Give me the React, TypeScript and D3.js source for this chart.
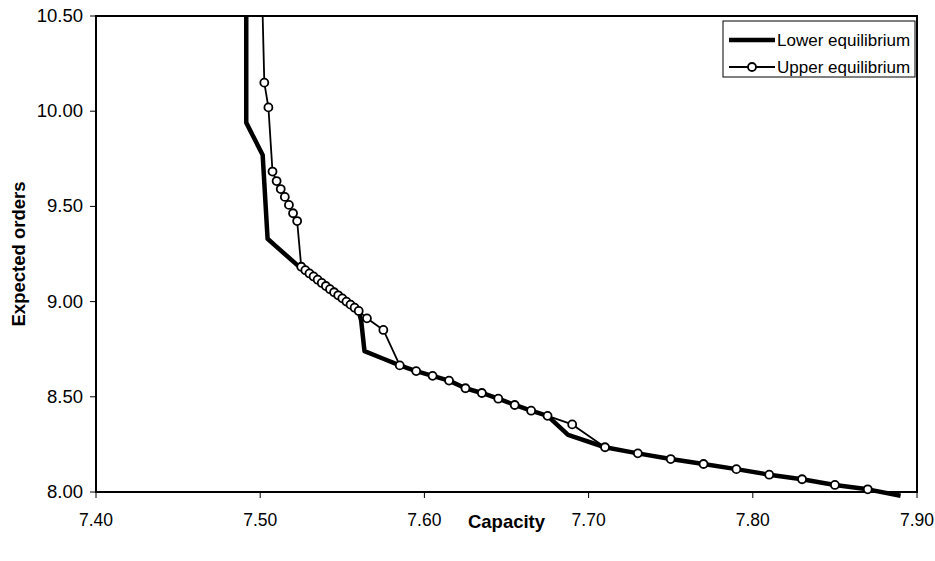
import * as React from "react";
import * as d3 from "d3";

// capacity / expected orders
const lowerCapacity = [
  7.4915, 7.4915, 7.5015, 7.5045, 7.509, 7.5235, 7.5275, 7.53, 7.5325, 7.535,
  7.5375, 7.54, 7.5425, 7.545, 7.5475, 7.55, 7.5525, 7.555, 7.5575, 7.56,
  7.5615, 7.5635, 7.575, 7.585, 7.595, 7.605, 7.615, 7.625, 7.635, 7.645,
  7.655, 7.665, 7.675, 7.6875, 7.71, 7.73, 7.75, 7.77, 7.79, 7.81, 7.83,
  7.85, 7.87, 7.89,
];
const lowerOrders = [
  10.5, 9.94, 9.77, 9.33, 9.295, 9.185, 9.165, 9.148, 9.132, 9.115, 9.098,
  9.082, 9.065, 9.049, 9.033, 9.017, 9.0, 8.984, 8.968, 8.951, 8.9, 8.74, 8.7,
  8.665, 8.635, 8.61, 8.585, 8.545, 8.52, 8.49, 8.457, 8.427, 8.4, 8.3, 8.235,
  8.203, 8.173, 8.147, 8.12, 8.091, 8.067, 8.037, 8.014, 7.98,
];

const upperCapacity = [
  7.5015, 7.5025, 7.505, 7.5075, 7.51, 7.5125, 7.515, 7.5175, 7.52, 7.5225,
  7.525, 7.5275, 7.53, 7.5325, 7.535, 7.5375, 7.54, 7.5425, 7.545, 7.5475,
  7.55, 7.5525, 7.555, 7.5575, 7.56, 7.565, 7.575, 7.585, 7.595, 7.605, 7.615,
  7.625, 7.635, 7.645, 7.655, 7.665, 7.675, 7.69, 7.71, 7.73, 7.75, 7.77,
  7.79, 7.81, 7.83, 7.85, 7.87,
];
const upperOrders = [
  10.5, 10.15, 10.02, 9.683, 9.633, 9.591, 9.55, 9.508, 9.464, 9.423, 9.183,
  9.165, 9.148, 9.132, 9.115, 9.098, 9.082, 9.065, 9.049, 9.033, 9.017, 9.0,
  8.984, 8.968, 8.951, 8.912, 8.851, 8.665, 8.635, 8.61, 8.585, 8.545, 8.52,
  8.49, 8.457, 8.427, 8.4, 8.355, 8.235, 8.203, 8.173, 8.147, 8.12, 8.091,
  8.067, 8.037, 8.014,
];

const xTicks = [7.4, 7.5, 7.6, 7.7, 7.8, 7.9];
const yTicks = [8.0, 8.5, 9.0, 9.5, 10.0, 10.5];
const seriesNames = ["Lower equilibrium", "Upper equilibrium"];

const font = "'Liberation Sans', Arial, sans-serif";

export default function App() {
  const left = 96;
  const right = 917;
  const top = 16;
  const bottom = 492;

  const x = d3.scaleLinear().domain([7.4, 7.9]).range([left, right]);
  const y = d3.scaleLinear().domain([8, 10.5]).range([bottom, top]);
  const fmt = d3.format(".2f");

  const line = d3
    .line<[number, number]>()
    .x((d) => x(d[0]))
    .y((d) => y(d[1]));

  const lower: [number, number][] = lowerCapacity.map((c, i) => [c, lowerOrders[i]]);
  const upper: [number, number][] = upperCapacity.map((c, i) => [c, upperOrders[i]]);

  // first upper point is only where the line enters the frame, no marker
  const upperMarks = upper.slice(1);

  const lgX = 723;
  const lgY = 21;

  return (
    <svg
      width={935}
      height={561}
      style={{ position: "absolute", left: 0, top: 0, background: "#fff" }}
      fontFamily={font}
    >
      <rect x={0} y={0} width={935} height={561} fill="#fff" />

      {/* frame */}
      <rect
        x={left}
        y={top}
        width={right - left}
        height={bottom - top}
        fill="none"
        stroke="#000"
        strokeWidth={2}
      />

      {/* x axis */}
      {xTicks.map((t, i) => (
        <g key={i} transform={`translate(${x(t)}, ${bottom})`}>
          <line y1={0} y2={6} stroke="#000" strokeWidth={1} />
          <text y={34} textAnchor="middle" fontSize={17.5}>
            {fmt(t)}
          </text>
        </g>
      ))}
      <text
        x={(left + right) / 2}
        y={528}
        textAnchor="middle"
        fontSize={18.5}
        fontWeight="bold"
      >
        Capacity
      </text>

      {/* y axis */}
      {yTicks.map((t, i) => (
        <g key={i} transform={`translate(${left}, ${y(t)})`}>
          <line x1={0} x2={-6} stroke="#000" strokeWidth={1} />
          <text x={-13} y={6} textAnchor="end" fontSize={18.5}>
            {fmt(t)}
          </text>
        </g>
      ))}
      <text
        transform={`translate(25, ${(top + bottom) / 2})rotate(-90)`}
        textAnchor="middle"
        fontSize={18.5}
        fontWeight="bold"
      >
        Expected orders
      </text>

      {/* series */}
      <path
        d={line(lower) ?? ""}
        fill="none"
        stroke="#000"
        strokeWidth={4.5}
        strokeLinejoin="round"
      />
      <path
        d={line(upper) ?? ""}
        fill="none"
        stroke="#000"
        strokeWidth={1.8}
        strokeLinejoin="round"
      />
      {upperMarks.map((d, i) => (
        <circle
          key={i}
          cx={x(d[0])}
          cy={y(d[1])}
          r={4}
          fill="#fff"
          stroke="#000"
          strokeWidth={1.8}
        />
      ))}

      {/* legend */}
      <g transform={`translate(${lgX}, ${lgY})`}>
        <rect
          x={0}
          y={0}
          width={right - lgX - 2}
          height={56}
          fill="#fff"
          stroke="#000"
          strokeWidth={1}
        />
        <line x1={6} x2={52} y1={19} y2={19} stroke="#000" strokeWidth={4.5} />
        <text x={54} y={25} fontSize={17}>
          {seriesNames[0]}
        </text>
        <line x1={6} x2={52} y1={46} y2={46} stroke="#000" strokeWidth={1.8} />
        <circle cx={29} cy={46} r={4} fill="#fff" stroke="#000" strokeWidth={1.8} />
        <text x={54} y={52} fontSize={17}>
          {seriesNames[1]}
        </text>
      </g>
    </svg>
  );
}
